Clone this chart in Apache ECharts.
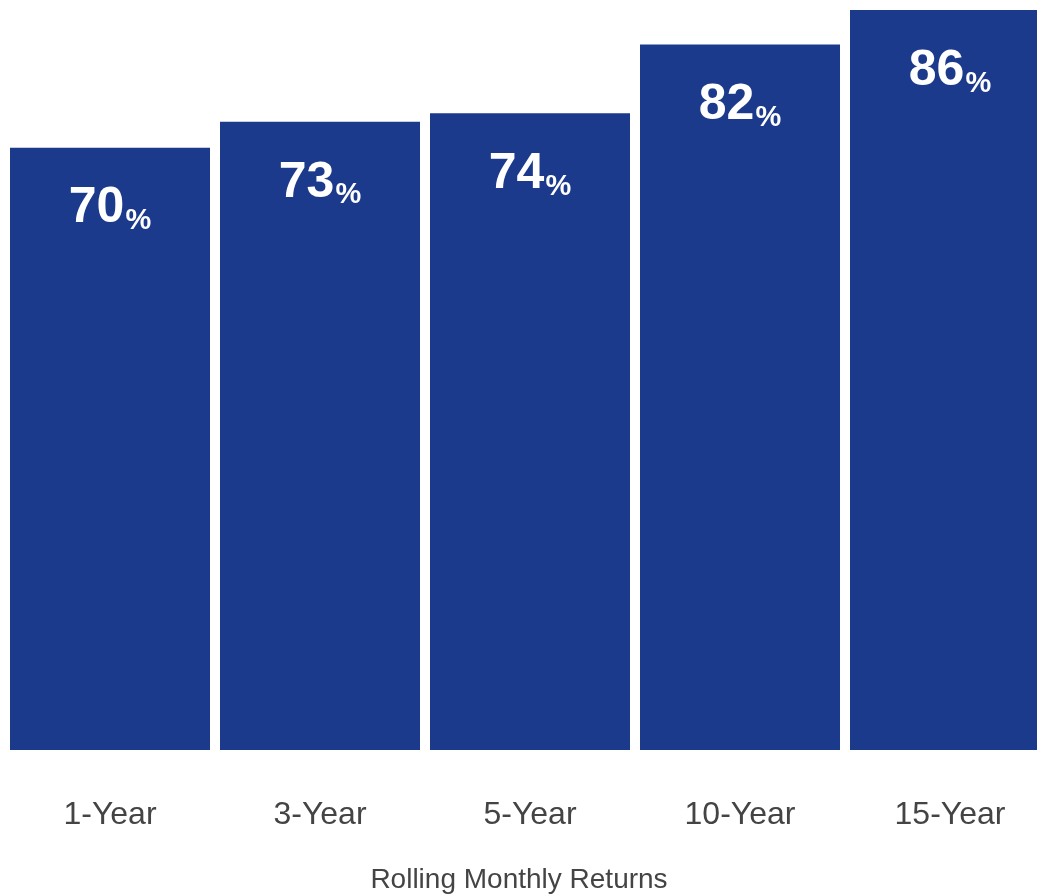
<!DOCTYPE html>
<html>
<head>
<meta charset="utf-8">
<script src="https://cdn.jsdelivr.net/npm/echarts@6/dist/echarts.min.js"></script>
<style>
html,body{margin:0;padding:0;background:#fff;}
#chart{width:1037px;height:896px;}
</style>
</head>
<body>
<div id="chart"></div>
<script>
const categories = ['1-Year', '3-Year', '5-Year', '10-Year', '15-Year'];
const values = [70, 73, 74, 82, 86];
const axisTitle = 'Rolling Monthly Returns';

const chart = echarts.init(document.getElementById('chart'), null, {renderer: 'canvas'});
chart.setOption({
  animation: false,
  backgroundColor: '#ffffff',
  grid: {left: 5, top: 10, right: -18, bottom: 146, outerBoundsMode: 'none', containLabel: false},
  xAxis: {
    type: 'category',
    data: categories,
    axisLine: {show: false},
    axisTick: {show: false},
    axisLabel: {
      margin: 49,
      fontFamily: 'Liberation Sans, Arial, sans-serif',
      fontSize: 32,
      color: '#444444'
    },
    name: axisTitle,
    nameLocation: 'middle',
    nameGap: 116,
    nameTextStyle: {
      fontFamily: 'Liberation Sans, Arial, sans-serif',
      fontSize: 28,
      color: '#444444',
      padding: [0, 22, 0, 0]
    }
  },
  yAxis: {
    type: 'value',
    min: 0,
    max: 86,
    show: false,
    splitLine: {show: false}
  },
  series: [{
    type: 'bar',
    data: values,
    barWidth: 200,
    itemStyle: {color: '#1b3a8c'},
    label: {
      show: true,
      position: 'insideTop',
      distance: 34,
      formatter: p => '{n|' + p.value + '}{p|%}',
      rich: {
        n: {fontFamily: 'Liberation Sans, Arial, sans-serif', fontWeight: 'bold', fontSize: 50, color: '#ffffff', lineHeight: 54},
        p: {fontFamily: 'Liberation Sans, Arial, sans-serif', fontWeight: 'bold', fontSize: 29, color: '#ffffff', lineHeight: 54, verticalAlign: 'bottom', padding: [0, 0, 0, 1]}
      }
    }
  }]
});
</script>
</body>
</html>
